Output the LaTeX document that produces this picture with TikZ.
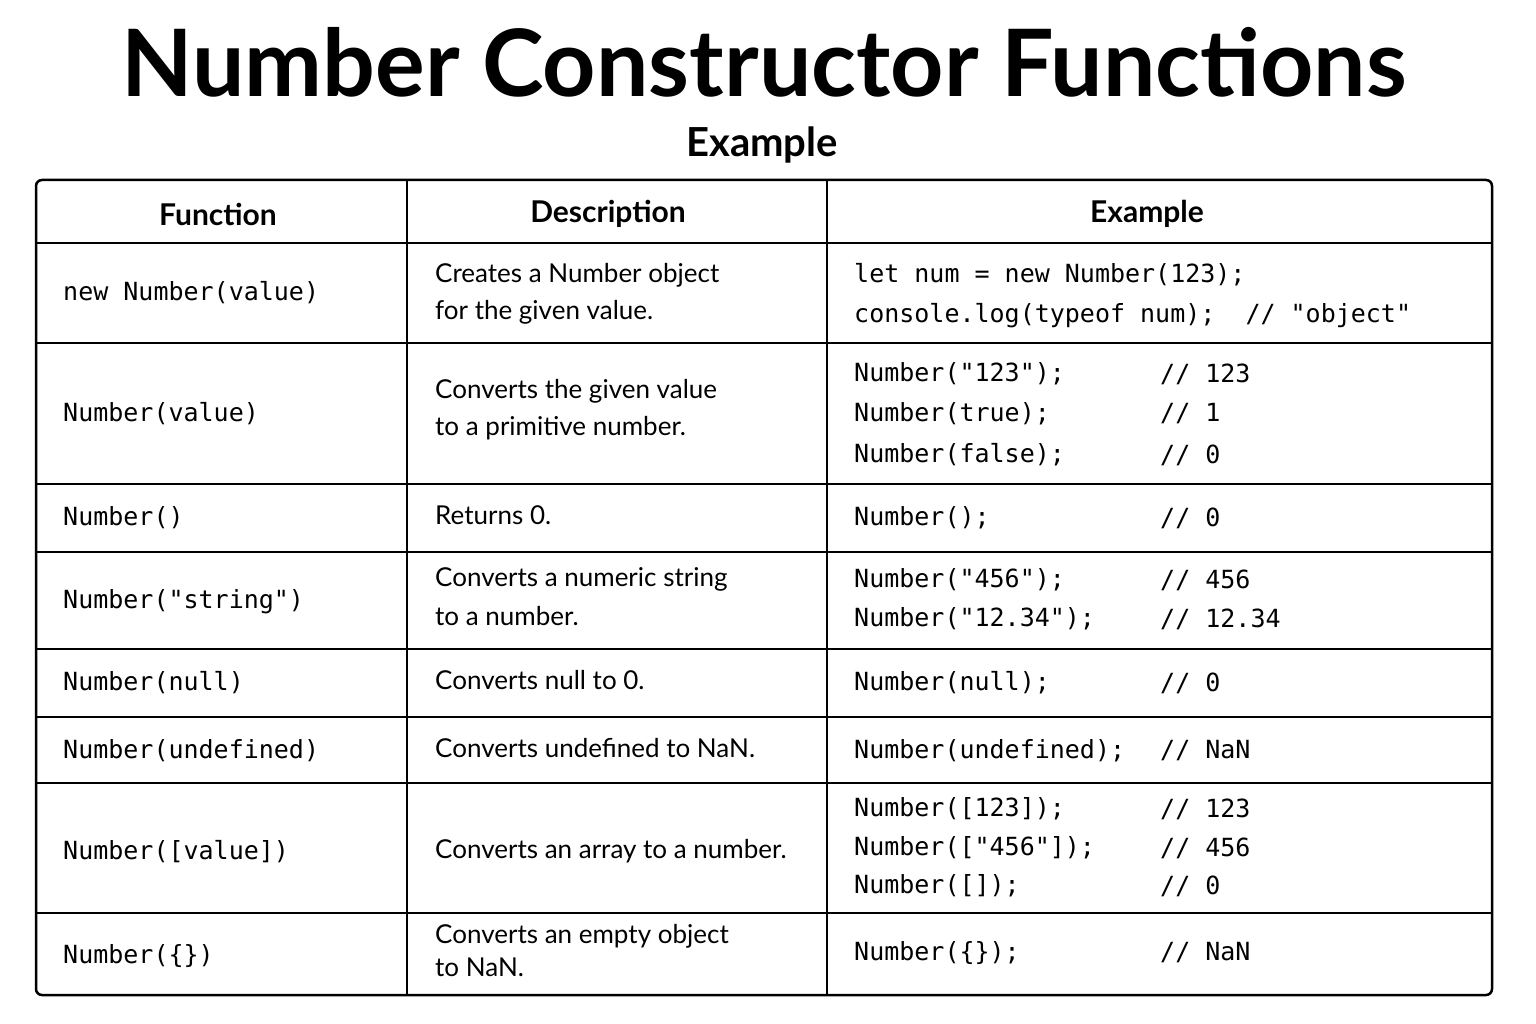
\documentclass[tikz,border=0pt]{standalone}
\usepackage{fontspec}
\setmainfont{Lato}
\setmonofont{DejaVu Sans Mono}
\begin{document}
\begin{tikzpicture}[x=1pt,y=-1pt,
  txt/.style={anchor=west,inner sep=0pt,font=\fontsize{26}{30}\selectfont},
  code/.style={anchor=west,inner sep=0pt,font=\ttfamily\fontsize{25}{30}\selectfont},
  head/.style={inner sep=0pt,font=\bfseries\fontsize{30}{34}\selectfont}]
\useasboundingbox (0,0) rectangle (1536,1024);
\node[inner sep=0pt,font=\bfseries\fontsize{93}{96}\selectfont] (title) at (764,62) {Number Constructor Functions};
\node[inner sep=0pt,font=\bfseries\fontsize{40}{44}\selectfont] (sub) at (762,145) {Example};
% table frame and rules
\draw[line width=2.5pt,rounded corners=6pt] (36,180) rectangle (1492,995);
\foreach \y in {243,343,484,552,649,717,783,913}
  \draw[line width=1.6pt] (36,\y) -- (1492,\y);
\draw[line width=1.6pt] (407,180) -- (407,995);
\draw[line width=1.6pt] (827,180) -- (827,995);
\node[head] (h1) at (218,214) {Function};
\node[head] (h2) at (608,214) {Description};
\node[head] (h3) at (1147,214) {Example};
% column 1
\foreach \y/\t [count=\i] in {293/new Number(value),414/Number(value),518/Number(),602/Number("string"),683/Number(null),751/Number(undefined),852/Number([value]),956/Number(\{\})}
  \node[code] (f\i) at (63,\y) {\t};
% column 2
\foreach \y/\t [count=\i] in {276/Creates a Number object,313/for the given value.,392/Converts the given value,429/to a primitive number.,518/Returns 0.,580/Converts a numeric string,619/to a number.,683/Converts null to 0.,751/Converts undefined to NaN.,852/Converts an array to a number.,937/Converts an empty object,970/to NaN.}
  \node[txt,text height=18pt,text depth=5pt] (d\i) at (435,\y) {\t};
% column 3
\node[code] (e1) at (854,275) {let num = new Number(123);};
\node[code] (e2) at (854,316) {console.log(typeof num);\ \ // "object"};
\foreach \y/\a/\b [count=\i] in {374/Number("123");/123,414/Number(true);/1,455/Number(false);/0,518/Number();/0,580/Number("456");/456,619/Number("12.34");/12.34,683/Number(null);/0,751/Number(undefined);/NaN,809/Number([123]);/123,848/Number(["456"]);/456,886/Number([]);/0,953/Number(\{\});/NaN}
  {\node[code] (c\i) at (854,\y) {\a};
   \node[code] (k\i) at (1160,\y) {// \b};}
\end{tikzpicture}
\end{document}
